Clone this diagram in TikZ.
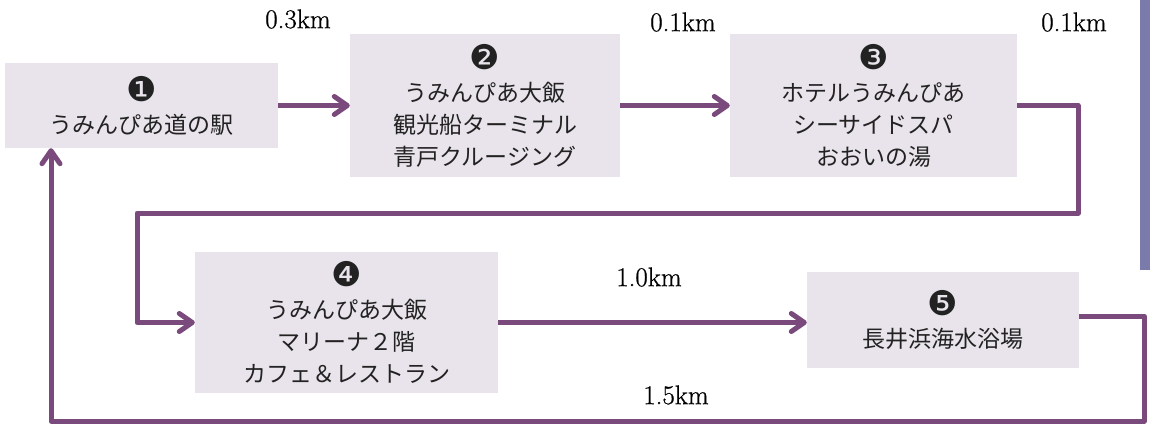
\documentclass[tikz,border=0pt]{standalone}
\usepackage{fontspec}
\usetikzlibrary{arrows.meta}
\newfontfamily\jpfont{Noto Sans CJK JP}
\newfontfamily\numfont{DejaVu Sans}
\newfontfamily\kmfont[FakeBold=0.8]{Latin Modern Roman}
\definecolor{boxfill}{HTML}{E9E4EC}
\definecolor{routecol}{HTML}{7A4A7C}
\definecolor{sidebar}{HTML}{7B7BAB}
\definecolor{ink}{HTML}{222222}
\newcommand{\stopnum}[1]{{\numfont\fontsize{34}{32}\selectfont #1}}

\begin{document}
\begin{tikzpicture}[x=1pt,y=-1pt,
    spot/.style={fill=boxfill,text=ink,align=center,inner sep=0pt,font=\jpfont\fontsize{23}{32}\selectfont},
    route/.style={draw=routecol,line width=5pt,line join=round,-{Straight Barb[length=13pt,width=18pt,line cap=round,line join=round]}},
    dist/.style={text=black,font=\kmfont\fontsize{27}{30}\selectfont}]
    \useasboundingbox (0,0) rectangle (1150,423);
    \fill[sidebar] (1140,0) rectangle (1150,270);
    % stops
    \node[spot,minimum width=273pt,minimum height=85pt] (s1) at (141.5,105.5) {\stopnum{❶}\\うみんぴあ道の駅};
    \node[spot,minimum width=270pt,minimum height=143pt] (s2) at (485,105.5) {\stopnum{❷}\\うみんぴあ大飯\\観光船ターミナル\\青戸クルージング};
    \node[spot,minimum width=287pt,minimum height=143pt] (s3) at (873.5,105.5) {\stopnum{❸}\\ホテルうみんぴあ\\シーサイドスパ\\おおいの湯};
    \node[spot,minimum width=303pt,minimum height=141pt] (s4) at (346.5,322.5) {\stopnum{❹}\\うみんぴあ大飯\\マリーナ２階\\カフェ＆レストラン};
    \node[spot,minimum width=272pt,minimum height=96pt] (s5) at (943,320) {\stopnum{❺}\\長井浜海水浴場};
    % distances
    \node[dist] (d12) at (298,19) {0.3km};
    \node[dist] (d23) at (683,22) {0.1km};
    \node[dist] (d34) at (1074,22) {0.1km};
    \node[dist] (d45) at (649,277) {1.0km};
    \node[dist] (d51) at (676,395) {1.5km};
    % route
    \coordinate (c1) at (1078,213); \coordinate (c2) at (137,213);
    \coordinate (c3) at (1144,421); \coordinate (c4) at (51,421);
    \draw[route] (s1) -- (s2);
    \draw[route] (s2) -- (s3);
    \draw[route] (s3.east) -| (c1) -- (c2) |- (s4.west);
    \draw[route] (s4.east) -- (s4.east -| s5.west);
    \draw[route] ([yshift=4pt]s5.east) -| (c3) -- (c4) -- (c4 |- s1.south);
\end{tikzpicture}
\end{document}
